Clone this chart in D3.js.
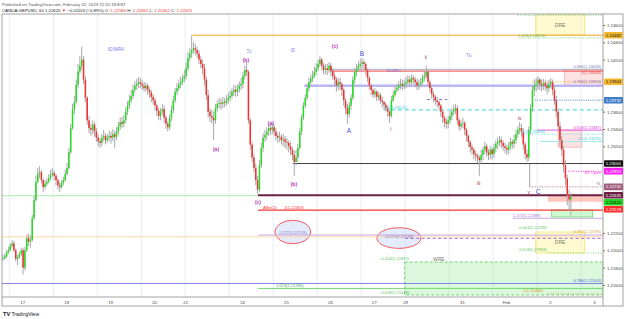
<!DOCTYPE html>
<html>
<head>
<meta charset="utf-8">
<script src="https://cdn.jsdelivr.net/npm/d3@7"></script>
<style>
  html, body { margin: 0; padding: 0; background: #fff; }
  svg { display: block; font-family: "Liberation Sans", Arial, sans-serif; }
</style>
</head>
<body>
<svg id="chart" width="625" height="319"></svg>
<script>
// GBPUSD 60 min bars, [close, high, low]; each bar opens at the previous close.
// one array per FX session (17:00 EST to 17:00 EST), named after the day it ends
var firstOpen = 1.2190;
var jan16 = [[1.2191,1.2195,1.2188],[1.2193,1.2196,1.2189],[1.2198,1.2200,1.2191],[1.2200,1.2204,1.2196]];
var jan17 = [[1.2205,1.2208,1.2199],[1.2208,1.2212,1.2203],[1.2200,1.2211,1.2198],[1.2190,1.2202,1.2187],[1.2192,1.2195,1.2183],[1.2196,1.2198,1.2190],[1.2200,1.2203,1.2193],[1.2180,1.2203,1.2172],[1.2200,1.2204,1.2177],[1.2214,1.2218,1.2198],[1.2210,1.2219,1.2205],[1.2212,1.2217,1.2203],[1.2237,1.2241,1.2210],[1.2258,1.2263,1.2235],[1.2279,1.2286,1.2256],[1.2288,1.2295,1.2277],[1.2290,1.2297,1.2283],[1.2281,1.2293,1.2277],[1.2273,1.2283,1.2267],[1.2277,1.2281,1.2270],[1.2279,1.2283,1.2274],[1.2283,1.2288,1.2277],[1.2287,1.2293,1.2281],[1.2289,1.2295,1.2285]];
var jan18 = [[1.2286,1.2292,1.2281],[1.2281,1.2288,1.2275],[1.2275,1.2283,1.2270],[1.2273,1.2279,1.2267],[1.2278,1.2281,1.2271],[1.2281,1.2285,1.2275],[1.2288,1.2293,1.2279],[1.2295,1.2301,1.2286],[1.2313,1.2318,1.2293],[1.2341,1.2346,1.2311],[1.2362,1.2369,1.2339],[1.2371,1.2378,1.2357],[1.2391,1.2397,1.2369],[1.2406,1.2415,1.2387],[1.2413,1.2424,1.2403],[1.2420,1.2435,1.2408],[1.2397,1.2424,1.2392],[1.2376,1.2401,1.2371],[1.2350,1.2378,1.2345],[1.2341,1.2355,1.2335],[1.2339,1.2346,1.2332],[1.2345,1.2350,1.2334],[1.2337,1.2348,1.2331],[1.2330,1.2341,1.2325]];
var jan19 = [[1.2326,1.2334,1.2320],[1.2324,1.2330,1.2318],[1.2330,1.2334,1.2320],[1.2332,1.2339,1.2326],[1.2327,1.2335,1.2322],[1.2330,1.2334,1.2324],[1.2332,1.2338,1.2326],[1.2330,1.2337,1.2323],[1.2334,1.2340,1.2326],[1.2331,1.2338,1.2318],[1.2337,1.2342,1.2327],[1.2343,1.2348,1.2333],[1.2348,1.2353,1.2339],[1.2346,1.2354,1.2341],[1.2350,1.2356,1.2342],[1.2360,1.2365,1.2347],[1.2367,1.2372,1.2356],[1.2373,1.2379,1.2363],[1.2378,1.2385,1.2370],[1.2385,1.2391,1.2375],[1.2390,1.2395,1.2382],[1.2392,1.2398,1.2385],[1.2394,1.2400,1.2387],[1.2392,1.2399,1.2387]];
var jan20 = [[1.2390,1.2397,1.2385],[1.2387,1.2394,1.2383],[1.2390,1.2394,1.2383],[1.2385,1.2392,1.2379],[1.2382,1.2388,1.2376],[1.2377,1.2385,1.2371],[1.2373,1.2380,1.2368],[1.2367,1.2376,1.2361],[1.2361,1.2369,1.2355],[1.2355,1.2364,1.2350],[1.2360,1.2364,1.2350],[1.2363,1.2369,1.2356],[1.2353,1.2367,1.2347],[1.2346,1.2356,1.2340],[1.2342,1.2349,1.2337],[1.2353,1.2357,1.2339],[1.2362,1.2367,1.2349],[1.2373,1.2378,1.2358],[1.2383,1.2387,1.2370],[1.2387,1.2393,1.2379],[1.2391,1.2397,1.2384],[1.2394,1.2400,1.2387],[1.2398,1.2403,1.2391],[1.2401,1.2408,1.2394]];
var jan23 = [[1.2410,1.2417,1.2397],[1.2422,1.2429,1.2407],[1.2427,1.2433,1.2418],[1.2431,1.2448,1.2422],[1.2433,1.2440,1.2427],[1.2431,1.2438,1.2425],[1.2427,1.2435,1.2422],[1.2420,1.2431,1.2415],[1.2415,1.2424,1.2410],[1.2410,1.2420,1.2403],[1.2397,1.2415,1.2390],[1.2379,1.2401,1.2373],[1.2360,1.2385,1.2353],[1.2355,1.2364,1.2348],[1.2353,1.2362,1.2346],[1.2350,1.2360,1.2327],[1.2364,1.2369,1.2346],[1.2369,1.2373,1.2360],[1.2370,1.2376,1.2364],[1.2369,1.2375,1.2362],[1.2371,1.2377,1.2364],[1.2370,1.2376,1.2365],[1.2373,1.2379,1.2367],[1.2376,1.2382,1.2369]];
var jan24 = [[1.2378,1.2384,1.2372],[1.2383,1.2387,1.2375],[1.2385,1.2391,1.2378],[1.2383,1.2390,1.2377],[1.2386,1.2392,1.2378],[1.2390,1.2395,1.2382],[1.2392,1.2399,1.2385],[1.2401,1.2406,1.2387],[1.2408,1.2413,1.2397],[1.2406,1.2417,1.2401],[1.2350,1.2408,1.2346],[1.2322,1.2353,1.2316],[1.2307,1.2325,1.2302],[1.2295,1.2311,1.2290],[1.2281,1.2300,1.2275],[1.2270,1.2286,1.2265],[1.2298,1.2304,1.2267],[1.2318,1.2324,1.2295],[1.2330,1.2335,1.2313],[1.2333,1.2339,1.2325],[1.2337,1.2342,1.2327],[1.2341,1.2346,1.2332],[1.2339,1.2346,1.2333],[1.2342,1.2347,1.2334]];
var jan25 = [[1.2337,1.2345,1.2332],[1.2332,1.2341,1.2327],[1.2330,1.2335,1.2324],[1.2331,1.2337,1.2325],[1.2327,1.2334,1.2322],[1.2328,1.2334,1.2320],[1.2325,1.2332,1.2318],[1.2324,1.2330,1.2316],[1.2320,1.2327,1.2313],[1.2316,1.2325,1.2310],[1.2310,1.2319,1.2304],[1.2302,1.2315,1.2286],[1.2307,1.2316,1.2298],[1.2318,1.2323,1.2302],[1.2337,1.2341,1.2316],[1.2353,1.2357,1.2333],[1.2367,1.2371,1.2350],[1.2376,1.2380,1.2364],[1.2387,1.2392,1.2373],[1.2394,1.2399,1.2383],[1.2398,1.2403,1.2391],[1.2401,1.2407,1.2394],[1.2406,1.2412,1.2399],[1.2410,1.2416,1.2402]];
var jan26 = [[1.2415,1.2420,1.2407],[1.2420,1.2424,1.2412],[1.2413,1.2422,1.2408],[1.2408,1.2416,1.2403],[1.2410,1.2415,1.2403],[1.2408,1.2415,1.2402],[1.2413,1.2417,1.2405],[1.2407,1.2416,1.2401],[1.2401,1.2410,1.2397],[1.2397,1.2405,1.2391],[1.2390,1.2400,1.2383],[1.2394,1.2399,1.2385],[1.2392,1.2399,1.2385],[1.2385,1.2394,1.2378],[1.2373,1.2387,1.2367],[1.2364,1.2376,1.2357],[1.2357,1.2369,1.2346],[1.2367,1.2371,1.2353],[1.2376,1.2380,1.2362],[1.2397,1.2401,1.2373],[1.2406,1.2410,1.2392],[1.2410,1.2415,1.2401],[1.2413,1.2418,1.2406],[1.2415,1.2421,1.2408]];
var jan27 = [[1.2417,1.2422,1.2410],[1.2415,1.2420,1.2409],[1.2408,1.2417,1.2402],[1.2399,1.2410,1.2394],[1.2390,1.2401,1.2385],[1.2385,1.2392,1.2379],[1.2380,1.2387,1.2376],[1.2383,1.2387,1.2376],[1.2377,1.2385,1.2372],[1.2379,1.2383,1.2373],[1.2373,1.2382,1.2369],[1.2371,1.2377,1.2365],[1.2368,1.2373,1.2362],[1.2364,1.2371,1.2360],[1.2360,1.2367,1.2354],[1.2355,1.2362,1.2347],[1.2373,1.2378,1.2353],[1.2379,1.2384,1.2371],[1.2385,1.2390,1.2377],[1.2387,1.2392,1.2382],[1.2390,1.2395,1.2384],[1.2392,1.2398,1.2386],[1.2390,1.2397,1.2385],[1.2392,1.2397,1.2386]];
var jan30 = [[1.2394,1.2400,1.2387],[1.2397,1.2402,1.2391],[1.2394,1.2401,1.2390],[1.2399,1.2403,1.2391],[1.2397,1.2402,1.2392],[1.2394,1.2400,1.2388],[1.2390,1.2398,1.2385],[1.2392,1.2397,1.2385],[1.2394,1.2399,1.2388],[1.2399,1.2403,1.2391],[1.2401,1.2407,1.2395],[1.2406,1.2413,1.2398],[1.2394,1.2408,1.2390],[1.2387,1.2397,1.2382],[1.2380,1.2390,1.2375],[1.2377,1.2383,1.2371],[1.2373,1.2379,1.2368],[1.2371,1.2377,1.2365],[1.2367,1.2373,1.2361],[1.2360,1.2369,1.2354],[1.2353,1.2362,1.2347],[1.2348,1.2355,1.2342],[1.2346,1.2352,1.2340],[1.2350,1.2355,1.2341]];
var jan31 = [[1.2355,1.2361,1.2346],[1.2360,1.2364,1.2350],[1.2362,1.2368,1.2356],[1.2364,1.2369,1.2357],[1.2350,1.2367,1.2345],[1.2343,1.2353,1.2338],[1.2346,1.2350,1.2339],[1.2347,1.2353,1.2341],[1.2339,1.2349,1.2333],[1.2332,1.2341,1.2326],[1.2325,1.2334,1.2319],[1.2319,1.2327,1.2313],[1.2316,1.2322,1.2310],[1.2311,1.2318,1.2305],[1.2309,1.2315,1.2303],[1.2307,1.2312,1.2301],[1.2304,1.2310,1.2286],[1.2310,1.2316,1.2300],[1.2316,1.2320,1.2304],[1.2320,1.2325,1.2311],[1.2313,1.2323,1.2308],[1.2310,1.2317,1.2304],[1.2316,1.2320,1.2305],[1.2311,1.2319,1.2305]];
var feb1 = [[1.2318,1.2323,1.2307],[1.2323,1.2327,1.2313],[1.2325,1.2330,1.2317],[1.2327,1.2332,1.2320],[1.2324,1.2331,1.2318],[1.2320,1.2327,1.2315],[1.2318,1.2324,1.2312],[1.2316,1.2322,1.2310],[1.2320,1.2325,1.2311],[1.2325,1.2330,1.2316],[1.2323,1.2328,1.2317],[1.2327,1.2333,1.2318],[1.2334,1.2339,1.2323],[1.2339,1.2343,1.2330],[1.2341,1.2348,1.2334],[1.2337,1.2346,1.2331],[1.2322,1.2341,1.2316],[1.2311,1.2325,1.2305],[1.2307,1.2316,1.2302],[1.2339,1.2343,1.2303],[1.2364,1.2369,1.2334],[1.2385,1.2390,1.2360],[1.2390,1.2397,1.2378],[1.2392,1.2399,1.2383]];
var feb2 = [[1.2397,1.2401,1.2385],[1.2392,1.2399,1.2385],[1.2390,1.2397,1.2383],[1.2393,1.2398,1.2385],[1.2390,1.2397,1.2384],[1.2387,1.2394,1.2380],[1.2392,1.2397,1.2383],[1.2394,1.2399,1.2387],[1.2385,1.2397,1.2379],[1.2373,1.2390,1.2368],[1.2360,1.2378,1.2353],[1.2343,1.2364,1.2337],[1.2327,1.2348,1.2320],[1.2316,1.2332,1.2309],[1.2298,1.2320,1.2290],[1.2283,1.2304,1.2275],[1.2264,1.2287,1.2252],[1.22586,1.2270,1.2247],[1.22620,1.22662,1.22402]];

// time axis: bar index (0 = Jan 16 17:00) and label
var timeTicks = [[7,"17"],[31,"18"],[55,"19"],[79,"20"],[96,"22"],[127,"24"],[151,"25"],[175,"26"],[199,"27"],[216,"29"],[247,"31"],[271,"Feb"],[295,"2"],[319,"3"]];
var sessionStarts = d3.range(0, 325, 24);
var priceTicks = d3.range(0, 16).map(function(i) { return 1.216 + i * 0.002; });

// price scale markers on the right
var markPrices = [1.24482, 1.23944, 1.23732, 1.23001, 1.22913, 1.22732, 1.22635, 1.22620, 1.22578];
var markColors = [["#f3b72f","#222"],["#f3b72f","#222"],["#3d7cc9","#fff"],["#131313","#fff"],["#ff1ff4","#fff"],["#a25c7e","#fff"],["#6e1f45","#fff"],["#21d421","#111"],["#ff2a2a","#fff"]];

// drawn levels: id, price, from bar, to bar
var levels = [
  ["orange", 1.24482, 100, 324],
  ["green1618", 1.24712, 277.5, 324],
  ["green1414", 1.24451, 277.5, 324],
  ["gray886", 1.24088, 175, 324],
  ["red1", 1.24068, 175, 324],
  ["lav786", 1.23900, 161, 324],
  ["orangeDot", 1.23944, 285, 324],
  ["blueDot", 1.23732, 287, 324],
  ["purpleShort", 1.23740, 228, 239],
  ["cyanDash", 1.23621, 204.4, 324],
  ["mag618", 1.23387, 288, 324],
  ["cyanDot", 1.23340, 279.7, 324],
  ["cyanLight", 1.23255, 289.5, 324],
  ["black", 1.23001, 154.7, 324],
  ["nyOpen", 1.22913, 305, 324],
  ["yl", 1.22732, 284, 324],
  ["greenLeft", 1.22630, -4, 135.7],
  ["maroon", 1.22635, 135.7, 324],
  ["redABCD", 1.22463, 135.7, 324],
  ["lav1272a", 1.22370, 274.8, 324],
  ["lav1272b", 1.22176, 135.7, 324],
  ["orangeLight", 1.22155, -4, 324],
  ["purpleDash", 1.22138, 216, 324],
  ["greenDotDre", 1.21969, 294, 324],
  ["blue786", 1.21617, -4, 324],
  ["green1618b", 1.21560, 135.7, 324],
  ["oliveDot", 1.21496, 294, 324]
];
var levelStyle = {
  orange: ["#f5a623", 1, null], green1618: ["#7fd67f", 1, "1,1.5"], green1414: ["#7fd67f", 1, "1,1.5"],
  gray886: ["#a9b2c6", 1, null], red1: ["#f24141", 1, null], lav786: ["#b9b6f3", 2.5, null],
  orangeDot: ["#f3b72f", 1, "1,1.2"], blueDot: ["#3d7cc9", 0.9, "1,1.2"], purpleShort: ["#6f6fd6", 1, "3,3"],
  cyanDash: ["#5fdde5", 1.2, "4,3"], mag618: ["#e45be4", 1, null], cyanDot: ["#5fdde5", 1, "1,1.5"],
  cyanLight: ["#9ee9ef", 1, null], black: ["#3a3a3a", 1, null], nyOpen: ["#ff1ff4", 1, "1,1.5"],
  yl: ["#a25c7e", 0.9, "1,1.5"], greenLeft: ["#a8eca8", 1, null], maroon: ["#6e1f45", 1.8, null],
  redABCD: ["#ff3434", 1.3, null], lav1272a: ["#c9a5e3", 1, null], lav1272b: ["#c9a5e3", 1, null],
  orangeLight: ["#ffd9a6", 1, null], purpleDash: ["#a267d8", 1, "3,2.5"], greenDotDre: ["#7fd67f", 1, "1,1.5"],
  blue786: ["#8083ea", 1, null], green1618b: ["#6fdc6f", 1, null], oliveDot: ["#b9a35a", 1, "1,1.5"]
};

// fib / level captions: text, bar, price, anchor, colour, vertical offset in px
var captions = [
  ["1.414(1.24451)", 277.5, 1.24451, "start", "#5cbf5c", -1.2],
  ["0.886(1.24068)", 323, 1.24088, "end", "#7a8ab4", -1.2],
  ["1(1.24049)", 323, 1.24068, "end", "#f24141", 2.8],
  ["ID/WR+", 206, 1.24068, "start", "#7a6ad8", 1.3],
  ["0.786(1.23953)", 323, 1.23900, "end", "#8d6fc2", -2.5],
  ["0.5(1.23621)", 204.4, 1.23621, "start", "#3cc9d6", -1.2],
  ["0.618(1.23387)", 323, 1.23387, "end", "#e040e0", -1.2],
  ["0.5(1.23383)", 279.7, 1.23340, "start", "#3cc9d6", -1.2],
  ["0.5(1.23255)", 323, 1.23255, "end", "#3cc9d6", -1.2],
  ["NY Open", 323, 1.22913, "end", "#ff1ff4", 3.2],
  ["YL", 323, 1.22732, "end", "#a25c7e", -1.5],
  ["AB=CD", 138.5, 1.22463, "start", "#ff3434", -1.5],
  ["1(1.22463)", 150, 1.22463, "start", "#ff3434", -1.2],
  ["1.272(1.22389)", 274.8, 1.22370, "start", "#a874d6", -1.2],
  ["1.272(1.22176)", 154.7, 1.22176, "middle", "#8a74d0", -1.2],
  ["-0.272(1.22138)", 212.6, 1.22138, "middle", "#8a74d0", -0.6],
  ["-0.404(1.22295)", 277.5, 1.22240, "start", "#5cbf5c", 0],
  ["0.382(1.22196)", 323, 1.22200, "end", "#e8a23a", 0],
  ["-0.618(1.21969)", 277.5, 1.21969, "start", "#5cbf5c", -1.8],
  ["-0.414(1.21857)", 202.3, 1.21865, "start", "#5cbf5c", -1.5],
  ["-0.618(1.21478)", 202.3, 1.21484, "start", "#5cbf5c", -1.2],
  ["0.786(1.21563)", 323, 1.21617, "end", "#5a5de0", -1.2],
  ["1.618(1.21396)", 145.5, 1.21560, "start", "#4caf50", -1.2],
  ["-1(1.21468)", 279.7, 1.21496, "start", "#d49a2a", -1.5]
];

// zones: id, bar from, bar to, price top, price bottom
var zones = [
  ["dreTop", 287.3, 314, 1.24720, 1.24485],
  ["pinkTop", 303, 324, 1.24088, 1.23890],
  ["pinkMid", 299.5, 312.4, 1.23387, 1.23190],
  ["salmon", 293.9, 324, 1.22640, 1.22560],
  ["greenBox", 296, 318.4, 1.22465, 1.22384],
  ["dreLow", 287.3, 314, 1.22211, 1.21969],
  ["wre", 215.8, 324, 1.21865, 1.21484]
];
var zoneStyle = {
  dreTop: ["rgba(255,246,170,0.55)", "#f2e46a", null], pinkTop: ["rgba(242,140,140,0.25)", "#f3b0b0", null],
  pinkMid: ["rgba(242,140,140,0.25)", "#f3b0b0", null], salmon: ["rgba(255,130,110,0.45)", "none", null],
  greenBox: ["rgba(150,240,150,0.45)", "#69d869", null], dreLow: ["rgba(255,246,170,0.55)", "#f2e46a", null],
  wre: ["rgba(130,230,130,0.28)", "#58c858", "3,2"]
};
var zoneLabels = [["DRE", 300.6, 1.24600], ["DRE", 300.6, 1.22090], ["WRE", 234.4, 1.21895]];

// ellipses: bar from, bar to, price top, price bottom
var ellipses = [[144.9, 164.5, 1.22346, 1.22076], [200.6, 224.6, 1.22260, 1.22022]];

// wave labels: text, bar, price, kind
var waveLabels = [
  ["iD/WR4", 58.2, 1.24323, "tag"], ["Tu", 130.8, 1.24300, "tag"], ["iD", 154.7, 1.24312, "tag"],
  ["(b)", 129.1, 1.24196, "minor"], ["(a)", 112.8, 1.23169, "minor"], ["(a)", 142.7, 1.23469, "minor"],
  ["(b)", 155.3, 1.22765, "minor"], ["(c)", 135.7, 1.22557, "minor"], ["(c)", 177.7, 1.24358, "minor"],
  ["B", 192.4, 1.24265, "major"], ["A", 185.3, 1.23377, "major"], ["C", 288.6, 1.22673, "major"],
  ["i", 208.2, 1.23400, "sub"], ["ii", 227.3, 1.24230, "sub"], ["Tu", 250.7, 1.24254, "tag"],
  ["iii", 256.2, 1.22777, "sub"], ["iv", 278.6, 1.23527, "sub"], ["v", 283.5, 1.22673, "sub"]
];
var waveStyle = { tag: ["#7b7cf0", 4.6, "normal"], minor: ["#b534b5", 5, "bold"], major: ["#4d4fe0", 6.6, "normal"], sub: ["#a0304e", 5, "normal"] };

//////////////////////////////////////////////////////
var svg = d3.select("#chart");
var x = d3.scaleLinear().domain([-4, 324]).range([2, 603]);
var y = d3.scaleLinear().domain([1.21461, 1.24715]).range([297, 15]);

var bars = [].concat(jan16, jan17, jan18, jan19, jan20, jan23, jan24, jan25, jan26, jan27, jan30, jan31, feb1, feb2)
  .map(function(b, i) { return { k: i - 4, c: b[0], h: b[1], l: b[2] }; });
bars.forEach(function(b, i) { b.o = i ? bars[i - 1].c : firstOpen; });

svg.append("defs").append("clipPath").attr("id", "plot")
  .append("rect").attr("x", 2).attr("y", 14.5).attr("width", 601).attr("height", 282.5);

// day separators
svg.append("g").selectAll("line").data(sessionStarts).enter().append("line")
  .attr("x1", function(d) { return x(d); }).attr("x2", function(d) { return x(d); })
  .attr("y1", 14).attr("y2", 297)
  .attr("stroke", "#dfe7f4").attr("stroke-width", 0.8);

var plot = svg.append("g").attr("clip-path", "url(#plot)");

// zones
plot.append("g").selectAll("rect").data(zones).enter().append("rect")
  .attr("x", function(d) { return x(d[1]); })
  .attr("width", function(d) { return x(d[2]) - x(d[1]); })
  .attr("y", function(d) { return y(d[3]); })
  .attr("height", function(d) { return y(d[4]) - y(d[3]); })
  .attr("fill", function(d) { return zoneStyle[d[0]][0]; })
  .attr("stroke", function(d) { return zoneStyle[d[0]][1]; })
  .attr("stroke-width", 0.8)
  .attr("stroke-dasharray", function(d) { return zoneStyle[d[0]][2]; });

// ellipses
plot.append("g").selectAll("ellipse").data(ellipses).enter().append("ellipse")
  .attr("cx", function(d) { return (x(d[0]) + x(d[1])) / 2; })
  .attr("cy", function(d) { return (y(d[2]) + y(d[3])) / 2; })
  .attr("rx", function(d) { return (x(d[1]) - x(d[0])) / 2; })
  .attr("ry", function(d) { return (y(d[3]) - y(d[2])) / 2; })
  .attr("fill", "rgba(205,218,246,0.55)").attr("stroke", "#f04848").attr("stroke-width", 0.9);

// levels
plot.append("g").selectAll("line").data(levels).enter().append("line")
  .attr("x1", function(d) { return x(d[2]); }).attr("x2", function(d) { return x(d[3]); })
  .attr("y1", function(d) { return y(d[1]); }).attr("y2", function(d) { return y(d[1]); })
  .attr("stroke", function(d) { return levelStyle[d[0]][0]; })
  .attr("stroke-width", function(d) { return levelStyle[d[0]][1]; })
  .attr("stroke-dasharray", function(d) { return levelStyle[d[0]][2]; });

// YL connector
plot.append("line")
  .attr("x1", x(284)).attr("x2", x(284)).attr("y1", y(1.23001)).attr("y2", y(1.22732))
  .attr("stroke", "#8a8a8a").attr("stroke-width", 0.8);

// candles
var candle = plot.append("g").selectAll("g").data(bars).enter().append("g");
candle.append("line")
  .attr("x1", function(d) { return x(d.k + 0.5); }).attr("x2", function(d) { return x(d.k + 0.5); })
  .attr("y1", function(d) { return y(d.h); }).attr("y2", function(d) { return y(d.l); })
  .attr("stroke", "#a8a8a8").attr("stroke-width", 1);
candle.append("rect")
  .attr("x", function(d) { return x(d.k) + 0.15; })
  .attr("width", function(d) { return x(d.k + 1) - x(d.k) - 0.3; })
  .attr("y", function(d) { return y(Math.max(d.o, d.c)); })
  .attr("height", function(d) { return Math.max(0.7, Math.abs(y(d.o) - y(d.c))); })
  .attr("fill", function(d) { return d.c >= d.o ? "#25dc25" : "#f0312f"; });

// captions
plot.append("g").selectAll("text").data(captions).enter().append("text")
  .attr("x", function(d) { return x(d[1]); })
  .attr("y", function(d) { return y(d[2]) + d[5]; })
  .attr("text-anchor", function(d) { return d[3]; })
  .attr("fill", function(d) { return d[4]; })
  .attr("font-size", 4.1)
  .text(function(d) { return d[0]; });

plot.append("g").selectAll("text").data(zoneLabels).enter().append("text")
  .attr("x", function(d) { return x(d[1]); })
  .attr("y", function(d) { return y(d[2]) + 1.6; })
  .attr("text-anchor", "middle").attr("fill", "#7a7a6a").attr("font-size", 5)
  .text(function(d) { return d[0]; });

plot.append("g").selectAll("text").data(waveLabels).enter().append("text")
  .attr("x", function(d) { return x(d[1]); })
  .attr("y", function(d) { return y(d[2]) + waveStyle[d[3]][1] * 0.35; })
  .attr("text-anchor", "middle")
  .attr("fill", function(d) { return waveStyle[d[3]][0]; })
  .attr("font-size", function(d) { return waveStyle[d[3]][1]; })
  .attr("font-weight", function(d) { return waveStyle[d[3]][2]; })
  .text(function(d) { return d[0]; });

// frame
svg.append("rect").attr("x", 2).attr("y", 14).attr("width", 621).attr("height", 292)
  .attr("fill", "none").attr("stroke", "#8c8c8c").attr("stroke-width", 0.8);
svg.append("line").attr("x1", 2).attr("x2", 603).attr("y1", 297).attr("y2", 297)
  .attr("stroke", "#8c8c8c").attr("stroke-width", 0.8);
svg.append("line").attr("x1", 603).attr("x2", 603).attr("y1", 14).attr("y2", 306)
  .attr("stroke", "#8c8c8c").attr("stroke-width", 0.8);

// price markers, pushed apart where they would overlap
var marks = markPrices.map(function(p, i) { return { p: p, yy: y(p), bg: markColors[i][0], fg: markColors[i][1] }; });
for (var i = 1; i < marks.length; i++) {
  if (marks[i].yy < marks[i - 1].yy + 7) marks[i].yy = marks[i - 1].yy + 7;
}

// price axis; ticks hidden behind a marker are dropped
var visibleTicks = priceTicks.filter(function(p) {
  return !marks.some(function(m) { return Math.abs(m.yy - y(p)) < 7; });
});
var yAxis = svg.append("g").attr("transform", "translate(603,0)")
  .call(d3.axisRight(y).tickValues(visibleTicks).tickFormat(d3.format(".5f")).tickSize(2).tickPadding(2));
yAxis.select(".domain").remove();
yAxis.selectAll("line").attr("stroke", "#777");
yAxis.selectAll("text").attr("font-size", 4.3).attr("fill", "#444").attr("font-family", "Liberation Sans, Arial, sans-serif");

// time axis
var xAxis = svg.append("g").attr("transform", "translate(0,297)")
  .call(d3.axisBottom(x).tickValues(timeTicks.map(function(d) { return d[0]; }))
    .tickFormat(function(d, i) { return timeTicks[i][1]; }).tickSize(0).tickPadding(3.5));
xAxis.select(".domain").remove();
xAxis.selectAll("text").attr("font-size", 4.3).attr("fill", "#444").attr("font-family", "Liberation Sans, Arial, sans-serif");

var mark = svg.append("g").selectAll("g").data(marks).enter().append("g")
  .attr("transform", function(d) { return "translate(604," + d.yy + ")"; });
mark.append("rect").attr("x", 0).attr("y", -3.3).attr("width", 19).attr("height", 6.6).attr("rx", 0.8)
  .attr("fill", function(d) { return d.bg; });
mark.append("text").attr("x", 9.5).attr("y", 1.5).attr("text-anchor", "middle")
  .attr("font-size", 4.3).attr("fill", function(d) { return d.fg; })
  .text(function(d) { return d3.format(".5f")(d.p); });

// header
svg.append("text").attr("x", 2).attr("y", 5.5).attr("font-size", 4.3).attr("fill", "#555")
  .text("Published on TradingView.com, February 02, 2023 12:31:18 EST");
var head = svg.append("text").attr("x", 2).attr("y", 11.5).attr("font-size", 4.3).attr("fill", "#222");
[["OANDA:GBPUSD, 60  1.22620 ", "#222"], ["\u25BC", "#f23030"], [" \u22120.01103 (\u22120.89%)  O: ", "#222"], ["1.22586", "#f23030"],
 ["  H: ", "#222"], ["1.22662", "#f23030"], ["  L: ", "#222"], ["1.22402", "#f23030"], ["  C: ", "#222"], ["1.22620", "#f23030"]]
  .forEach(function(t) { head.append("tspan").attr("fill", t[1]).text(t[0]); });

// logo
svg.append("text").attr("x", 3).attr("y", 315.5).attr("font-size", 5.6).attr("font-weight", "bold").attr("fill", "#131722").text("TV");
svg.append("text").attr("x", 11.5).attr("y", 315.5).attr("font-size", 5).attr("fill", "#131722").text("TradingView");
</script>
</body>
</html>
